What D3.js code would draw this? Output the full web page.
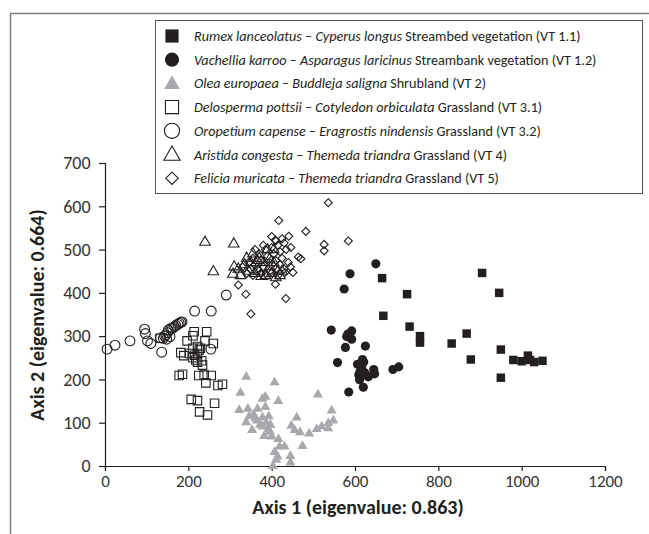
<!DOCTYPE html>
<html><head><meta charset="utf-8">
<script src="https://cdn.jsdelivr.net/npm/d3@7"></script>
<style>body{margin:0;background:#fff}svg{display:block}</style>
</head><body><svg id="c" width="649" height="534"></svg>
<script>
const xTicks=[0,200,400,600,800,1000,1200];
const yTicks=[0,100,200,300,400,500,600,700];
const seriesNames=[
 ["Rumex lanceolatus"," – ","Cyperus longus"," Streambed vegetation (VT 1.1)"],
 ["Vachellia karroo"," – ","Asparagus laricinus"," Streambank vegetation (VT 1.2)"],
 ["Olea europaea"," – ","Buddleja saligna"," Shrubland (VT 2)"],
 ["Delosperma pottsii"," – ","Cotyledon orbiculata"," Grassland (VT 3.1)"],
 ["Oropetium capense"," – ","Eragrostis nindensis"," Grassland (VT 3.2)"],
 ["Aristida congesta"," – ","Themeda triandra"," Grassland (VT 4)"],
 ["Felicia muricata"," – ","Themeda triandra"," Grassland (VT 5)"]];
const vt11=[[665,434],[668,347],[725,397],[731,322],[756,300],[756,285],[832,283],[868,306],[878,246],[905,446],[946,400],[950,269],[950,204],[980,245],[1000,242],[1015,255],[1020,245],[1030,240],[1050,243]];
const vt12=[[574,409],[588,444],[650,467],[543,314],[592,312],[580,299],[592,293],[577,274],[625,277],[558,239],[606,235],[618,246],[616,227],[612,218],[614,206],[611,199],[632,206],[645,223],[647,213],[691,223],[705,229],[585,171],[620,182],[621,240],[609,210],[624,215],[583,305]];
const vt2=[[339,206],[407,193],[325,169],[378,155],[385,160],[416,150],[511,165],[322,129],[343,132],[366,132],[385,136],[357,118],[378,112],[393,115],[544,128],[339,101],[365,105],[372,95],[353,83],[378,91],[392,85],[396,79],[382,69],[400,68],[416,62],[460,112],[447,93],[455,83],[468,78],[490,75],[508,85],[520,91],[536,99],[548,105],[536,87],[419,45],[431,45],[474,46],[407,32],[414,22],[411,14],[445,23],[445,8],[403,0],[361,110],[387,100],[397,95],[346,115]];
const vt31=[[214,310],[244,310],[211,301],[197,289],[240,289],[260,283],[211,272],[229,272],[222,276],[182,262],[189,255],[203,260],[215,256],[222,260],[226,268],[211,250],[218,245],[222,240],[234,233],[232,243],[178,209],[186,212],[225,209],[238,210],[255,209],[242,192],[271,186],[282,189],[207,154],[222,151],[263,145],[227,125],[246,118],[132,295]];
const vt32=[[5,270],[24,279],[60,289],[95,316],[97,306],[102,289],[110,283],[136,263],[133,296],[146,303],[152,314],[158,318],[167,322],[175,327],[182,332],[185,333],[140,295],[148,293],[156,299],[254,270],[215,358],[255,358],[291,395],[143,300],[150,308],[162,318],[170,325],[178,330]];
const vt4=[[240,517],[309,513],[260,449],[310,460],[307,443],[320,455],[325,440],[335,465],[345,450],[350,470],[360,445],[365,475],[370,450],[380,470],[385,440],[395,460],[400,445],[405,470],[415,450],[420,440],[340,480],[355,490],[370,480],[390,500],[405,500],[410,435],[425,450],[375,438],[395,478]];
const vt5=[[536,608],[417,567],[482,542],[441,531],[409,522],[584,520],[526,512],[526,497],[446,505],[464,483],[470,479],[432,447],[451,447],[409,420],[320,418],[338,397],[434,387],[350,351],[345,470],[355,480],[360,465],[370,490],[375,475],[380,460],[385,500],[390,485],[395,470],[400,505],[405,490],[410,475],[415,510],[420,495],[425,480],[430,515],[435,500],[440,470],[365,455],[350,455],[330,460],[340,445],[375,445],[395,450],[410,455],[420,465],[400,530],[410,520],[425,525],[380,510],[360,500],[430,455],[445,460],[390,440],[355,440],[415,440]];

const svg=d3.select("#c");
const x=d3.scaleLinear().domain([0,1200]).range([105,605]);
const y=d3.scaleLinear().domain([0,700]).range([466,163]);
const FONT="Carlito, Calibri, Lato, 'Liberation Sans', sans-serif";
const ink="#231f20";

svg.append("path").attr("d","M10.5,534 V13.5 H649").attr("fill","none").attr("stroke","#7f7f7f").attr("stroke-width",1.5);

const xa=svg.append("g").attr("transform","translate(0,466)")
 .call(d3.axisBottom(x).tickValues(xTicks).tickSizeOuter(0).tickSize(5).tickFormat(d3.format("d")));
const ya=svg.append("g").attr("transform","translate(105,0)")
 .call(d3.axisLeft(y).tickValues(yTicks).tickSizeOuter(0).tickSize(6).tickFormat(d3.format("d")));
[xa,ya].forEach(a=>{a.selectAll("path,line").attr("stroke",ink).attr("stroke-width",1.2);
 a.selectAll("text").attr("font-family",FONT).attr("fill","#333");});
xa.selectAll("text").attr("font-size",17).attr("y",6).attr("dy","0.9em");
ya.selectAll("text").attr("font-size",18).attr("dx","-0.3em");

svg.append("text").attr("x",358).attr("y",514).attr("text-anchor","middle").attr("font-family",FONT)
 .attr("font-weight","bold").attr("font-size",20).attr("fill",ink).text("Axis 1 (eigenvalue: 0.863)");
svg.append("text").attr("transform","translate(44,315) rotate(-90)").attr("text-anchor","middle").attr("font-family",FONT)
 .attr("font-weight","bold").attr("font-size",20).attr("fill",ink).text("Axis 2 (eigenvalue: 0.664)");

const styles=[
 {type:d3.symbolSquare,size:72,fill:ink,stroke:"none",rot:0},
 {type:d3.symbolCircle,size:66,fill:ink,stroke:"none",rot:0},
 {type:d3.symbolTriangle,size:44,fill:"#a7a9ac",stroke:"none",rot:0},
 {type:d3.symbolSquare,size:72,fill:"none",stroke:ink,rot:0},
 {type:d3.symbolCircle,size:76,fill:"none",stroke:ink,rot:0},
 {type:d3.symbolTriangle,size:48,fill:"none",stroke:ink,rot:0},
 {type:d3.symbolSquare,size:32,fill:"none",stroke:ink,rot:45}];
const data=[vt11,vt12,vt2,vt31,vt32,vt4,vt5];
data.forEach((ds,i)=>{
 const s=styles[i];
 svg.append("g").selectAll("path").data(ds).join("path")
  .attr("d",d3.symbol().type(s.type).size(s.size))
  .attr("transform",d=>`translate(${x(d[0])},${y(d[1])}) rotate(${s.rot})`)
  .attr("fill",s.fill).attr("stroke",s.stroke).attr("stroke-width",1.1);
});

const lg=svg.append("g");
lg.append("rect").attr("x",155.5).attr("y",20.5).attr("width",487).attr("height",173)
 .attr("fill","#fff").attr("stroke","#555").attr("stroke-width",1);
seriesNames.forEach((n,i)=>{
 const cy=36+i*23.7, s=styles[i];
 lg.append("path").attr("d",d3.symbol().type(s.type).size(s.size*2.4))
  .attr("transform",`translate(172,${cy+(s.type===d3.symbolTriangle?1:0)}) rotate(${s.rot})`)
  .attr("fill",s.fill).attr("stroke",s.stroke).attr("stroke-width",1.1);
 const t=lg.append("text").attr("x",194).attr("y",cy+5).attr("font-family",FONT).attr("font-size",14.2).attr("fill",ink);
 t.append("tspan").attr("font-style","italic").text(n[0]);
 t.append("tspan").text(n[1]);
 t.append("tspan").attr("font-style","italic").text(n[2]);
 t.append("tspan").text(n[3]);
});
</script></body></html>
